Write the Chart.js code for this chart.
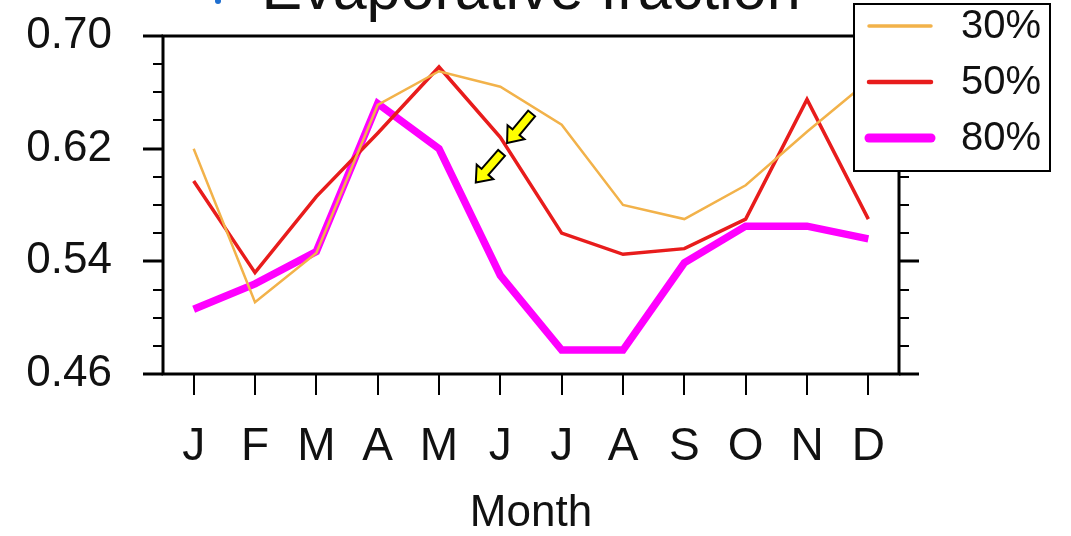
<!DOCTYPE html>
<html>
<head>
<meta charset="utf-8">
<script src="https://cdn.jsdelivr.net/npm/chart.js@4/dist/chart.umd.min.js"></script>
<style>
  html,body{margin:0;padding:0;background:#fff;}
  #wrap{width:1071px;height:536px;position:relative;}
</style>
</head>
<body>
<div id="wrap"><canvas id="efChart" width="1071" height="536"></canvas></div>
<script>
const months = ['J','F','M','A','M','J','J','A','S','O','N','D'];
const ef30 = [0.620, 0.511, 0.546, 0.651, 0.675, 0.664, 0.637, 0.580, 0.570, 0.594, 0.632, 0.668];
const ef50 = [0.597, 0.532, 0.586, 0.631, 0.678, 0.628, 0.560, 0.545, 0.549, 0.570, 0.655, 0.570];
const ef80 = [0.506, 0.524, 0.547, 0.652, 0.620, 0.530, 0.477, 0.477, 0.539, 0.565, 0.565, 0.556];
const seriesNames = ['30%','50%','80%'];
const yTicks = [0.46, 0.54, 0.62, 0.70];
// arrows in data units: [tailIdx, tailVal, tipIdx, tipVal]
const arrows = [[5.51, 0.645, 5.11, 0.624], [5.02, 0.617, 4.60, 0.596]];

const FONT = '"Liberation Sans", Arial, Helvetica, sans-serif';

// box, ticks, title, legend, arrows
const decorPlugin = {
  id:'decor',
  afterDatasetsDraw(chart){
    const {ctx, chartArea:a, scales:{x,y}} = chart;
    ctx.save();
    ctx.strokeStyle = '#000';
    ctx.lineWidth = 3;
    ctx.lineCap = 'butt';
    ctx.strokeRect(a.left, a.top, a.right-a.left, a.bottom-a.top);

    // y ticks both sides, minor every 0.02
    for(let i=0;i<=12;i++){
      const v = 0.46 + i*0.02;
      const py = Math.round(y.getPixelForValue(v));
      const len = (i%4===0) ? 20 : 10;
      ctx.lineWidth = (i%4===0) ? 3 : 2;
      ctx.beginPath();
      ctx.moveTo(a.left-len, py); ctx.lineTo(a.left, py);
      ctx.moveTo(a.right, py); ctx.lineTo(a.right+len, py);
      ctx.stroke();
    }
    // x ticks
    ctx.lineWidth = 2;
    months.forEach((m,i)=>{
      const px = Math.round(x.getPixelForValue(i));
      ctx.beginPath();
      ctx.moveTo(px, a.bottom); ctx.lineTo(px, a.bottom+21);
      ctx.stroke();
    });

    // arrows
    arrows.forEach(ar=>{
      const x0 = x.getPixelForValue(ar[0]), y0 = y.getPixelForValue(ar[1]);
      const x1 = x.getPixelForValue(ar[2]), y1 = y.getPixelForValue(ar[3]);
      const ang = Math.atan2(y1-y0, x1-x0);
      const L = Math.hypot(x1-x0, y1-y0);
      const sw = 4.5, hw = 11, hl = 14;
      ctx.save();
      ctx.translate(x0, y0); ctx.rotate(ang);
      ctx.beginPath();
      ctx.moveTo(0,-sw); ctx.lineTo(L-hl,-sw); ctx.lineTo(L-hl,-hw);
      ctx.lineTo(L,0); ctx.lineTo(L-hl,hw); ctx.lineTo(L-hl,sw); ctx.lineTo(0,sw);
      ctx.closePath();
      ctx.fillStyle = '#ffff00'; ctx.fill();
      ctx.lineWidth = 2; ctx.lineJoin = 'miter'; ctx.strokeStyle = '#000'; ctx.stroke();
      ctx.restore();
    });

    // title (cut off at top)
    ctx.fillStyle = '#111';
    ctx.font = '61px ' + FONT;
    ctx.textAlign = 'center';
    ctx.textBaseline = 'alphabetic';
    ctx.fillText('Evaporative fraction', 531, 9);
    ctx.fillStyle = '#1f6fd0';
    ctx.beginPath(); ctx.arc(218, 1, 3, 0, Math.PI*2); ctx.fill();

    // legend
    const lx = 854, ly = 4, lw = 196, lh = 167;
    ctx.fillStyle = '#fff';
    ctx.fillRect(lx, ly, lw, lh);
    ctx.lineWidth = 2; ctx.strokeStyle = '#000';
    ctx.strokeRect(lx, ly, lw, lh);
    const rows = [26, 82, 138];
    chart.data.datasets.forEach((ds,i)=>{
      ctx.strokeStyle = ds.borderColor;
      ctx.lineWidth = ds.legendWidth;
      ctx.lineCap = 'round';
      ctx.beginPath(); ctx.moveTo(869, rows[i]); ctx.lineTo(931, rows[i]); ctx.stroke();
      ctx.fillStyle = '#111';
      ctx.font = '40px ' + FONT;
      ctx.textAlign = 'right'; ctx.textBaseline = 'middle';
      ctx.fillText(ds.label, 1041, rows[i]+1);
    });
    ctx.restore();
  }
};

new Chart(document.getElementById('efChart'), {
  type:'line',
  data:{
    labels: months,
    datasets:[
      {label:seriesNames[0], data:ef30, borderColor:'#f2b24a', borderWidth:2.5, legendWidth:3.5},
      {label:seriesNames[1], data:ef50, borderColor:'#e81c1c', borderWidth:3.5, legendWidth:4.5},
      {label:seriesNames[2], data:ef80, borderColor:'#ff00ff', borderWidth:7.5, legendWidth:9}
    ]
  },
  options:{
    responsive:false,
    animation:false,
    layout:{padding:{top:36, right:172, left:0, bottom:0}},
    elements:{point:{radius:0}, line:{tension:0, borderJoinStyle:'miter', borderCapStyle:'butt'}},
    plugins:{legend:{display:false}, title:{display:false}, tooltip:{enabled:false}},
    scales:{
      x:{
        offset:true,
        grid:{display:false, drawTicks:false},
        border:{display:false},
        ticks:{color:'#111', font:{family:FONT, size:46}, padding:46, maxRotation:0, autoSkip:false},
        title:{display:true, text:'Month', color:'#111', font:{family:FONT, size:44}, padding:{top:8, bottom:-4}},
        afterFit(s){ s.height = 162; s.paddingLeft = 0; s.paddingRight = 0; }
      },
      y:{
        min:0.46, max:0.70,
        afterBuildTicks(s){ s.ticks = yTicks.map(v=>({value:v})); },
        grid:{display:false, drawTicks:false},
        border:{display:false},
        ticks:{color:'#111', font:{family:FONT, size:44}, padding:51, callback:v=>v.toFixed(2)},
        afterFit(s){ s.width = 163; s.paddingTop = 0; s.paddingBottom = 0; }
      }
    }
  },
  plugins:[decorPlugin]
});
</script>
</body>
</html>
